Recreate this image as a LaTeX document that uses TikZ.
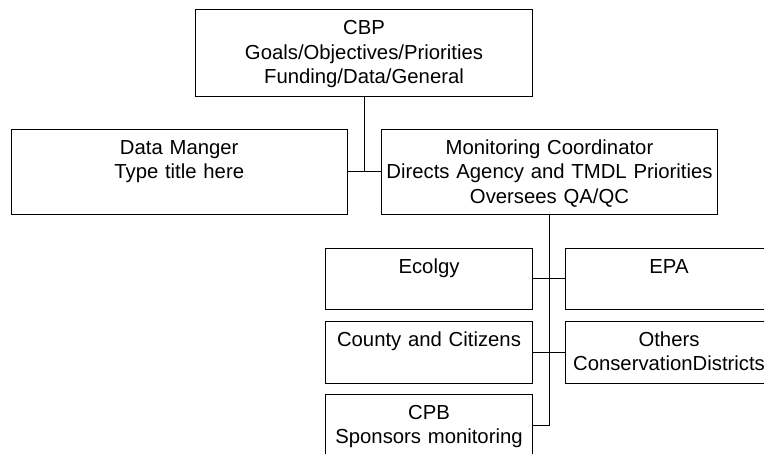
\documentclass[tikz,border=0pt]{standalone}
\usepackage{fontspec}
\setmainfont{Liberation Sans}
\begin{document}
\begin{tikzpicture}[x=1pt,y=-1pt,
  orgbox/.style 2 args={draw,line width=1pt,inner sep=0pt,anchor=north west,
    text width=#1pt,align=center,text height=25pt,text depth=#2pt,
    font=\fontsize{20.3}{24.5}\selectfont},
  link/.style={line width=1pt}]
  \useasboundingbox (0,0) rectangle (764,454);

% top level
  \node[orgbox={337}{61.4}] (cbp) at (195,9.3) {CBP\\Goals/Objectives/Priorities\\Funding/Data/General};
  \node[orgbox={336}{60}] (dm) at (10.7,129) {Data Manger\\Type title here};
  \node[orgbox={336}{60}] (mc) at (381,129) {Monitoring Coordinator\\Directs Agency and TMDL Priorities\\Oversees QA/QC};

% agencies
  \node[orgbox={207}{36}] (ecol) at (325,248) {Ecolgy};
  \node[orgbox={207}{36}] (epa) at (565,248) {EPA};
  \node[orgbox={207}{37}] (cty) at (325,321) {County and Citizens};
  \node[orgbox={207}{37}] (oth) at (565,321) {Others\\ConservationDistricts};
  \node[orgbox={207}{37}] (cpb) at (325,394) {CPB\\Sponsors monitoring};

% connectors
  \draw[link] (dm.east) -- (mc.west);
  \draw[link] (cbp.south) -- (cbp.south |- dm.east);
  \draw[link] (mc.south) -- (mc.south |- cpb.east) -- (cpb.east);
  \draw[link] (ecol.east) -- (epa.west);
  \draw[link] (cty.east) -- (oth.west);

\end{tikzpicture}
\end{document}
